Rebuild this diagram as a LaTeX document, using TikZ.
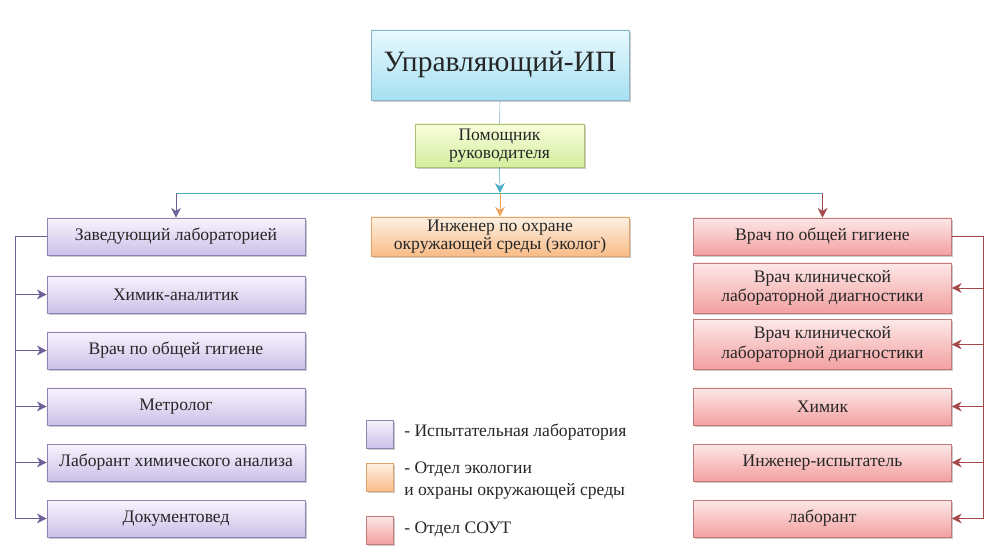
\documentclass[tikz,border=0pt]{standalone}
\usepackage{fontspec}
\setmainfont{LiberationSerif}[Extension=.ttf, UprightFont=*-Regular, BoldFont=*-Bold]
\newfontfamily\orgfont{LiberationSerif}[Extension=.ttf, UprightFont=*-Regular]
\usetikzlibrary{arrows.meta,shadows}

% colours of the three departments
\definecolor{labtop}{HTML}{F7F3FD}
\definecolor{labbot}{HTML}{CCC1E8}
\definecolor{labline}{HTML}{9083B3}
\definecolor{labarrow}{HTML}{6E6096}
\definecolor{ecotop}{HTML}{FDF0E2}
\definecolor{ecobot}{HTML}{F9BC88}
\definecolor{ecoline}{HTML}{E2A468}
\definecolor{ecoarrow}{HTML}{F0A45A}
\definecolor{souttop}{HTML}{FDE8E8}
\definecolor{soutbot}{HTML}{F3A0A0}
\definecolor{soutline}{HTML}{C27A7A}
\definecolor{soutarrow}{HTML}{A44A4A}
\definecolor{headtop}{HTML}{E8F9FE}
\definecolor{headbot}{HTML}{A6E0F1}
\definecolor{headline}{HTML}{8CB4C6}
\definecolor{helptop}{HTML}{F8FDDC}
\definecolor{helpbot}{HTML}{D4EE9E}
\definecolor{helpline}{HTML}{A9C172}
\definecolor{busline}{HTML}{4BACC6}

\tikzset{
  post/.style={draw, align=center, inner sep=2pt, text=black!85,
    minimum width=6.45cm, minimum height=0.925cm,
    drop shadow={shadow xshift=1.2pt, shadow yshift=-1.2pt, fill=black!45, opacity=0.45}},
  labbox/.style={post, draw=labline, top color=labtop, bottom color=labbot},
  ecobox/.style={post, draw=ecoline, top color=ecotop, bottom color=ecobot},
  soutbox/.style={post, draw=soutline, top color=souttop, bottom color=soutbot},
  legendkey/.style={post, minimum width=0.675cm, minimum height=0.7cm},
  legendtext/.style={anchor=west, align=left, inner sep=0pt, text=black!85},
  tip/.style={-{Stealth[length=7pt,width=7pt]}}
}

\begin{document}
\begin{tikzpicture}[x=0.025cm, y=-0.025cm, font=\orgfont\fontsize{12.5}{15}\selectfont]

    \useasboundingbox (0,0) rectangle (998,558);

    % head and helper
    \node[post, draw=headline, top color=headtop, bottom color=headbot,
          minimum height=1.75cm, font=\orgfont\fontsize{21}{25}\selectfont] (head) at (500,65) {Управляющий-ИП};
    \node[post, draw=helpline, top color=helptop, bottom color=helpbot,
          minimum width=4.225cm, minimum height=1.075cm, inner sep=1pt] (help) at (499.5,145.5) {Помощник\\[-2pt]руководителя};
    \draw[headline] (head.south) -- (help.north);

    % branch point under the helper
    \coordinate (br) at (500,193);
    \draw[busline, tip] (help.south) -- (br);
    \draw[busline] (177,193) -- (822,193);

    % testing laboratory (left column)
    \node[labbox] (lab1) at (176,236.5) {Заведующий лабораторией};
    \node[labbox] (lab2) at (176,294.5) {Химик-аналитик};
    \node[labbox] (lab3) at (176,350.5) {Врач по общей гигиене};
    \node[labbox] (lab4) at (176,406.5) {Метролог};
    \node[labbox] (lab5) at (176,462.5) {Лаборант химического анализа};
    \node[labbox] (lab6) at (176,518.5) {Документовед};

    % ecology (middle)
    \node[ecobox, minimum height=0.975cm, inner sep=1pt] (eco) at (500,236.5) {Инженер по охране\\[-2pt]окружающей среды (эколог)};

    % SOUT department (right column)
    \node[soutbox] (sout1) at (822.5,236.5) {Врач по общей гигиене};
    \node[soutbox, minimum height=1.25cm, inner sep=1pt] (sout2) at (822.5,288) {Врач клинической\\[-1pt]лабораторной диагностики};
    \node[soutbox, minimum height=1.25cm, inner sep=1pt] (sout3) at (822.5,344.5) {Врач клинической\\[-1pt]лабораторной диагностики};
    \node[soutbox] (sout4) at (822.5,406.5) {Химик};
    \node[soutbox] (sout5) at (822.5,462.5) {Инженер-испытатель};
    \node[soutbox] (sout6) at (822.5,518.5) {лаборант};

    % arrows from the branch line
    \draw[labarrow, tip] (lab1.north |- br) -- (lab1.north);
    \draw[ecoarrow, tip] (br) -- (eco.north);
    \draw[soutarrow, tip] (sout1.north |- br) -- (sout1.north);

    % left bus
    \coordinate (lbus) at (15,0);
    \draw[labarrow, tip] (lab1.west) -| (lbus |- lab6.west) -- (lab6.west);
    \foreach \n in {2,...,5}
        \draw[labarrow, tip] (lbus |- lab\n.west) -- (lab\n.west);

    % right bus
    \coordinate (rbus) at (983,0);
    \draw[soutarrow, tip] (sout1.east) -| (rbus |- sout6.east) -- (sout6.east);
    \foreach \n in {2,...,5}
        \draw[soutarrow, tip] (rbus |- sout\n.east) -- (sout\n.east);

    % legend
    \node[legendkey, draw=labline, top color=labtop, bottom color=labbot] (keylab) at (380,434) {};
    \node[legendkey, draw=ecoline, top color=ecotop, bottom color=ecobot] (keyeco) at (380,477.5) {};
    \node[legendkey, draw=soutline, top color=souttop, bottom color=soutbot] (keysout) at (380,530) {};
    \node[legendtext] (txtlab) at (404,432) {- Испытательная лаборатория};
    \node[legendtext] (txteco) at (404,480.5) {- Отдел экологии\\[1pt]и охраны окружающей среды};
    \node[legendtext] (txtsout) at (404,529) {- Отдел СОУТ};

\end{tikzpicture}
\end{document}
